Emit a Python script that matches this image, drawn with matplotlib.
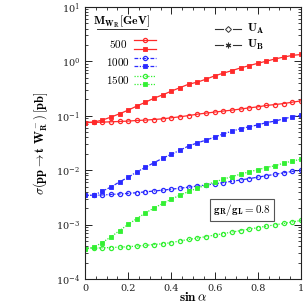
import numpy as np
import matplotlib
matplotlib.use("Agg")
import matplotlib.pyplot as plt
from matplotlib.lines import Line2D
from matplotlib.ticker import LogLocator, MultipleLocator, NullFormatter

plt.rcParams['font.family'] = ['DejaVu Serif']
plt.rcParams['mathtext.fontset'] = 'cm'

sin_alpha = [0.00, 0.04, 0.08, 0.12, 0.16, 0.20, 0.24, 0.28, 0.32, 0.36, 0.40, 0.44, 0.48,
             0.52, 0.56, 0.60, 0.64, 0.68, 0.72, 0.76, 0.80, 0.84, 0.88, 0.92, 0.96, 1.00]

red_UA = [0.0753, 0.0755, 0.0765, 0.0776, 0.0786, 0.080, 0.082, 0.0834, 0.0855, 0.088, 0.092, 0.096, 0.101,
          0.107, 0.112, 0.117, 0.122, 0.127, 0.133, 0.140, 0.146, 0.155, 0.161, 0.168, 0.178, 0.188]
red_UB = [0.0753, 0.0766, 0.0834, 0.0946, 0.109, 0.127, 0.151, 0.178, 0.211, 0.243, 0.284, 0.330, 0.381,
          0.415, 0.471, 0.542, 0.607, 0.677, 0.758, 0.836, 0.923, 1.01, 1.11, 1.20, 1.29, 1.34]
blue_UA = [0.00344, 0.00345, 0.00351, 0.00358, 0.00366, 0.00375, 0.00386, 0.00400, 0.00414, 0.00430,
           0.00448, 0.00467, 0.00488, 0.00511, 0.00535, 0.00562, 0.00592, 0.00625, 0.00660, 0.00701,
           0.00744, 0.00793, 0.00841, 0.00896, 0.00951, 0.0100]
blue_UB = [0.00344, 0.00347, 0.0041, 0.0049, 0.0061, 0.0074, 0.0093, 0.0113, 0.0138, 0.0166, 0.0197,
           0.0233, 0.0279, 0.0317, 0.0358, 0.0405, 0.0465, 0.052, 0.058, 0.063, 0.068, 0.075, 0.080,
           0.088, 0.096, 0.102]
green_UA = [3.63e-4, 3.69e-4, 3.74e-4, 3.79e-4, 3.85e-4, 3.93e-4, 4.03e-4, 4.15e-4, 4.30e-4, 4.46e-4,
            4.66e-4, 5.02e-4, 5.33e-4, 5.65e-4, 6.02e-4, 6.41e-4, 6.84e-4, 7.28e-4, 7.76e-4, 8.26e-4,
            8.81e-4, 9.35e-4, 9.91e-4, 1.05e-3, 1.12e-3, 1.19e-3]
green_UB = [3.63e-4, 3.83e-4, 4.68e-4, 5.94e-4, 7.76e-4, 1.01e-3, 1.29e-3, 1.64e-3, 2.02e-3, 2.45e-3,
            2.94e-3, 3.48e-3, 4.06e-3, 4.67e-3, 5.35e-3, 6.07e-3, 6.83e-3, 7.63e-3, 8.45e-3, 9.31e-3,
            1.02e-2, 1.12e-2, 1.21e-2, 1.35e-2, 1.47e-2, 1.59e-2]

masses = ['500', '1000', '1500']
x_ticks = [0, 0.2, 0.4, 0.6, 0.8, 1]
x_ticklabels = ['0', '0.2', '0.4', '0.6', '0.8', '1']

RED = '#ff2a2a'
BLUE = '#2a2aff'
GREEN = '#33f033'
colors = [RED, BLUE, GREEN]
styles = ['-', (0, (3, 1.2, 1, 1.2)), (0, (1, 1.2))]
series = [(red_UA, red_UB), (blue_UA, blue_UB), (green_UA, green_UB)]

fig = plt.figure(figsize=(3.05, 3.05), dpi=100)
ax = fig.add_axes([85/305, 1-279/305, 216/305, 272/305])

ua_kw = dict(marker='o', ms=3.0, mfc='none', mew=0.9)
ub_kw = dict(marker='s', ms=2.6, mew=0.6)
for c, ls, (ua, ub) in zip(colors, styles, series):
    ax.plot(sin_alpha, ua, color=c, ls=ls, lw=0.9, mec=c, **ua_kw)
    ax.plot(sin_alpha, ub, color=c, ls=ls, lw=0.9, mec=c, mfc=c, **ub_kw)

ax.set_yscale('log')
ax.set_ylim(1e-4, 10)
ax.set_xlim(0, 1)
ax.set_xticks(x_ticks)
ax.set_xticklabels(x_ticklabels)
ax.xaxis.set_minor_locator(MultipleLocator(0.05))
ax.yaxis.set_major_locator(LogLocator(base=10, numticks=10))
ax.yaxis.set_minor_locator(LogLocator(base=10, subs=np.arange(2, 10), numticks=20))
ax.yaxis.set_minor_formatter(NullFormatter())
ax.tick_params(which='both', direction='in', top=True, right=True, labelsize=7, colors='#222222')
ax.tick_params(which='major', length=5, width=0.7)
ax.tick_params(which='minor', length=2.5, width=0.6)
for s in ax.spines.values():
    s.set_linewidth(0.8)
    s.set_color('#222222')

ax.set_xlabel(r'$\mathbf{sin}\,\alpha$', fontsize=9.5, va='center')
ax.xaxis.set_label_coords(0.5, -0.068)
ax.set_ylabel(r'$\sigma(\mathbf{pp}\rightarrow\mathbf{t\ W_R^-})\,[\mathbf{pb}]$', fontsize=9, labelpad=4)

# mass legend (left)
T = ax.transAxes
ax.text(0.171, 0.945, r'$\mathbf{M_{W_R}[GeV]}$', transform=T, ha='center', va='center', fontsize=8.5)
ax.add_line(Line2D([0.055, 0.288], [0.918, 0.918], transform=T, color='#333333', lw=0.7))
rows = [(0.879, 0.846), (0.8125, 0.783), (0.746, 0.717)]
for m, c, ls, (ya, yb) in zip(masses, colors, styles, rows):
    ax.text(0.153, (ya + yb) / 2, r'$\mathbf{%s}$' % m, transform=T, ha='center', va='center', fontsize=8)
    ax.add_line(Line2D([0.227, 0.329], [ya, ya], transform=T, color=c, ls=ls, lw=0.9))
    ax.add_line(Line2D([0.278], [ya], transform=T, color=c, mec=c, ls='none', **ua_kw))
    ax.add_line(Line2D([0.227, 0.329], [yb, yb], transform=T, color=c, ls=ls, lw=0.9))
    ax.add_line(Line2D([0.278], [yb], transform=T, color=c, mec=c, mfc=c, ls='none', **ub_kw))

# model legend (right)
for y, lab, kw in [(0.919, r'$\mathbf{U_A}$', dict(marker='D', ms=3, mfc='none', mew=0.7)),
                   (0.860, r'$\mathbf{U_B}$', dict(marker=(6, 2, 0), ms=4, mew=0.8))]:
    ax.add_line(Line2D([0.602, 0.640], [y, y], transform=T, color='#333333', lw=0.8))
    ax.add_line(Line2D([0.684, 0.722], [y, y], transform=T, color='#333333', lw=0.8))
    ax.add_line(Line2D([0.662], [y], transform=T, color='#333333', ls='none', **kw))
    ax.text(0.75, y, lab, transform=T, ha='left', va='center', fontsize=8.5)

ax.text(0.727, 0.254, r'$\mathbf{g_R/g_L = 0.8}$', transform=T, ha='center', va='center', fontsize=8,
        bbox=dict(boxstyle='square,pad=0.3', fc='white', ec='#555555', lw=0.8))

fig.savefig('out.png', dpi=100)
